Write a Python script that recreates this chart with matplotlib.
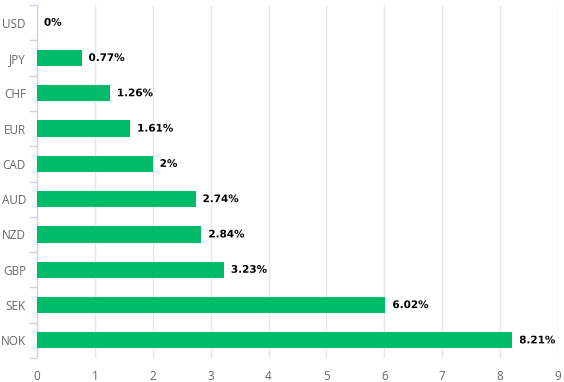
import matplotlib
matplotlib.use("Agg")
import matplotlib.pyplot as plt
import matplotlib.patheffects as pe
import numpy as np

currencies = ["USD", "JPY", "CHF", "EUR", "CAD", "AUD", "NZD", "GBP", "SEK", "NOK"]
changes = [0, 0.77, 1.26, 1.61, 2, 2.74, 2.84, 3.23, 6.02, 8.21]
labels = ["0%", "0.77%", "1.26%", "1.61%", "2%", "2.74%", "2.84%", "3.23%", "6.02%", "8.21%"]

plt.rcParams["font.family"] = ["Open Sans", "DejaVu Sans"]

fig = plt.figure(figsize=(5.64, 3.82), dpi=100)
ax = fig.add_axes([37 / 564, 1 - 358 / 382, (558 - 37) / 564, (358 - 5) / 382])

y = np.arange(len(currencies))
ax.barh(y, changes, height=0.46, color="#00bb6a", zorder=3)

for yi, v, lab in zip(y, changes, labels):
    ax.annotate(lab, (v, yi), xytext=(5, 0), textcoords="offset points",
                va="center", ha="left", fontsize=7.5, fontweight="bold",
                family="DejaVu Sans", color="black", zorder=4,
                path_effects=[pe.withStroke(linewidth=2, foreground="white")])

ax.set_xlim(0, 9)
ax.set_ylim(len(currencies) - 0.5, -0.5)
ax.set_xticks(range(10))
ax.set_yticks(y)
ax.set_yticklabels(currencies)
ax.set_yticks(np.arange(-0.5, len(currencies)), minor=True)

ax.grid(axis="x", color="#e6e6e6", linewidth=1, zorder=0)
for s in ["top", "right", "bottom"]:
    ax.spines[s].set_visible(False)
ax.spines["left"].set_color("#ccd6eb")
ax.spines["left"].set_linewidth(1)

ax.tick_params(axis="y", which="major", length=0, pad=8, labelsize=8.5, labelcolor="#666666")
ax.tick_params(axis="y", which="minor", length=6, color="#ccd6eb", width=1)
ax.tick_params(axis="x", length=0, pad=9, labelsize=8.5, labelcolor="#666666")

fig.savefig("out.png", dpi=100)
